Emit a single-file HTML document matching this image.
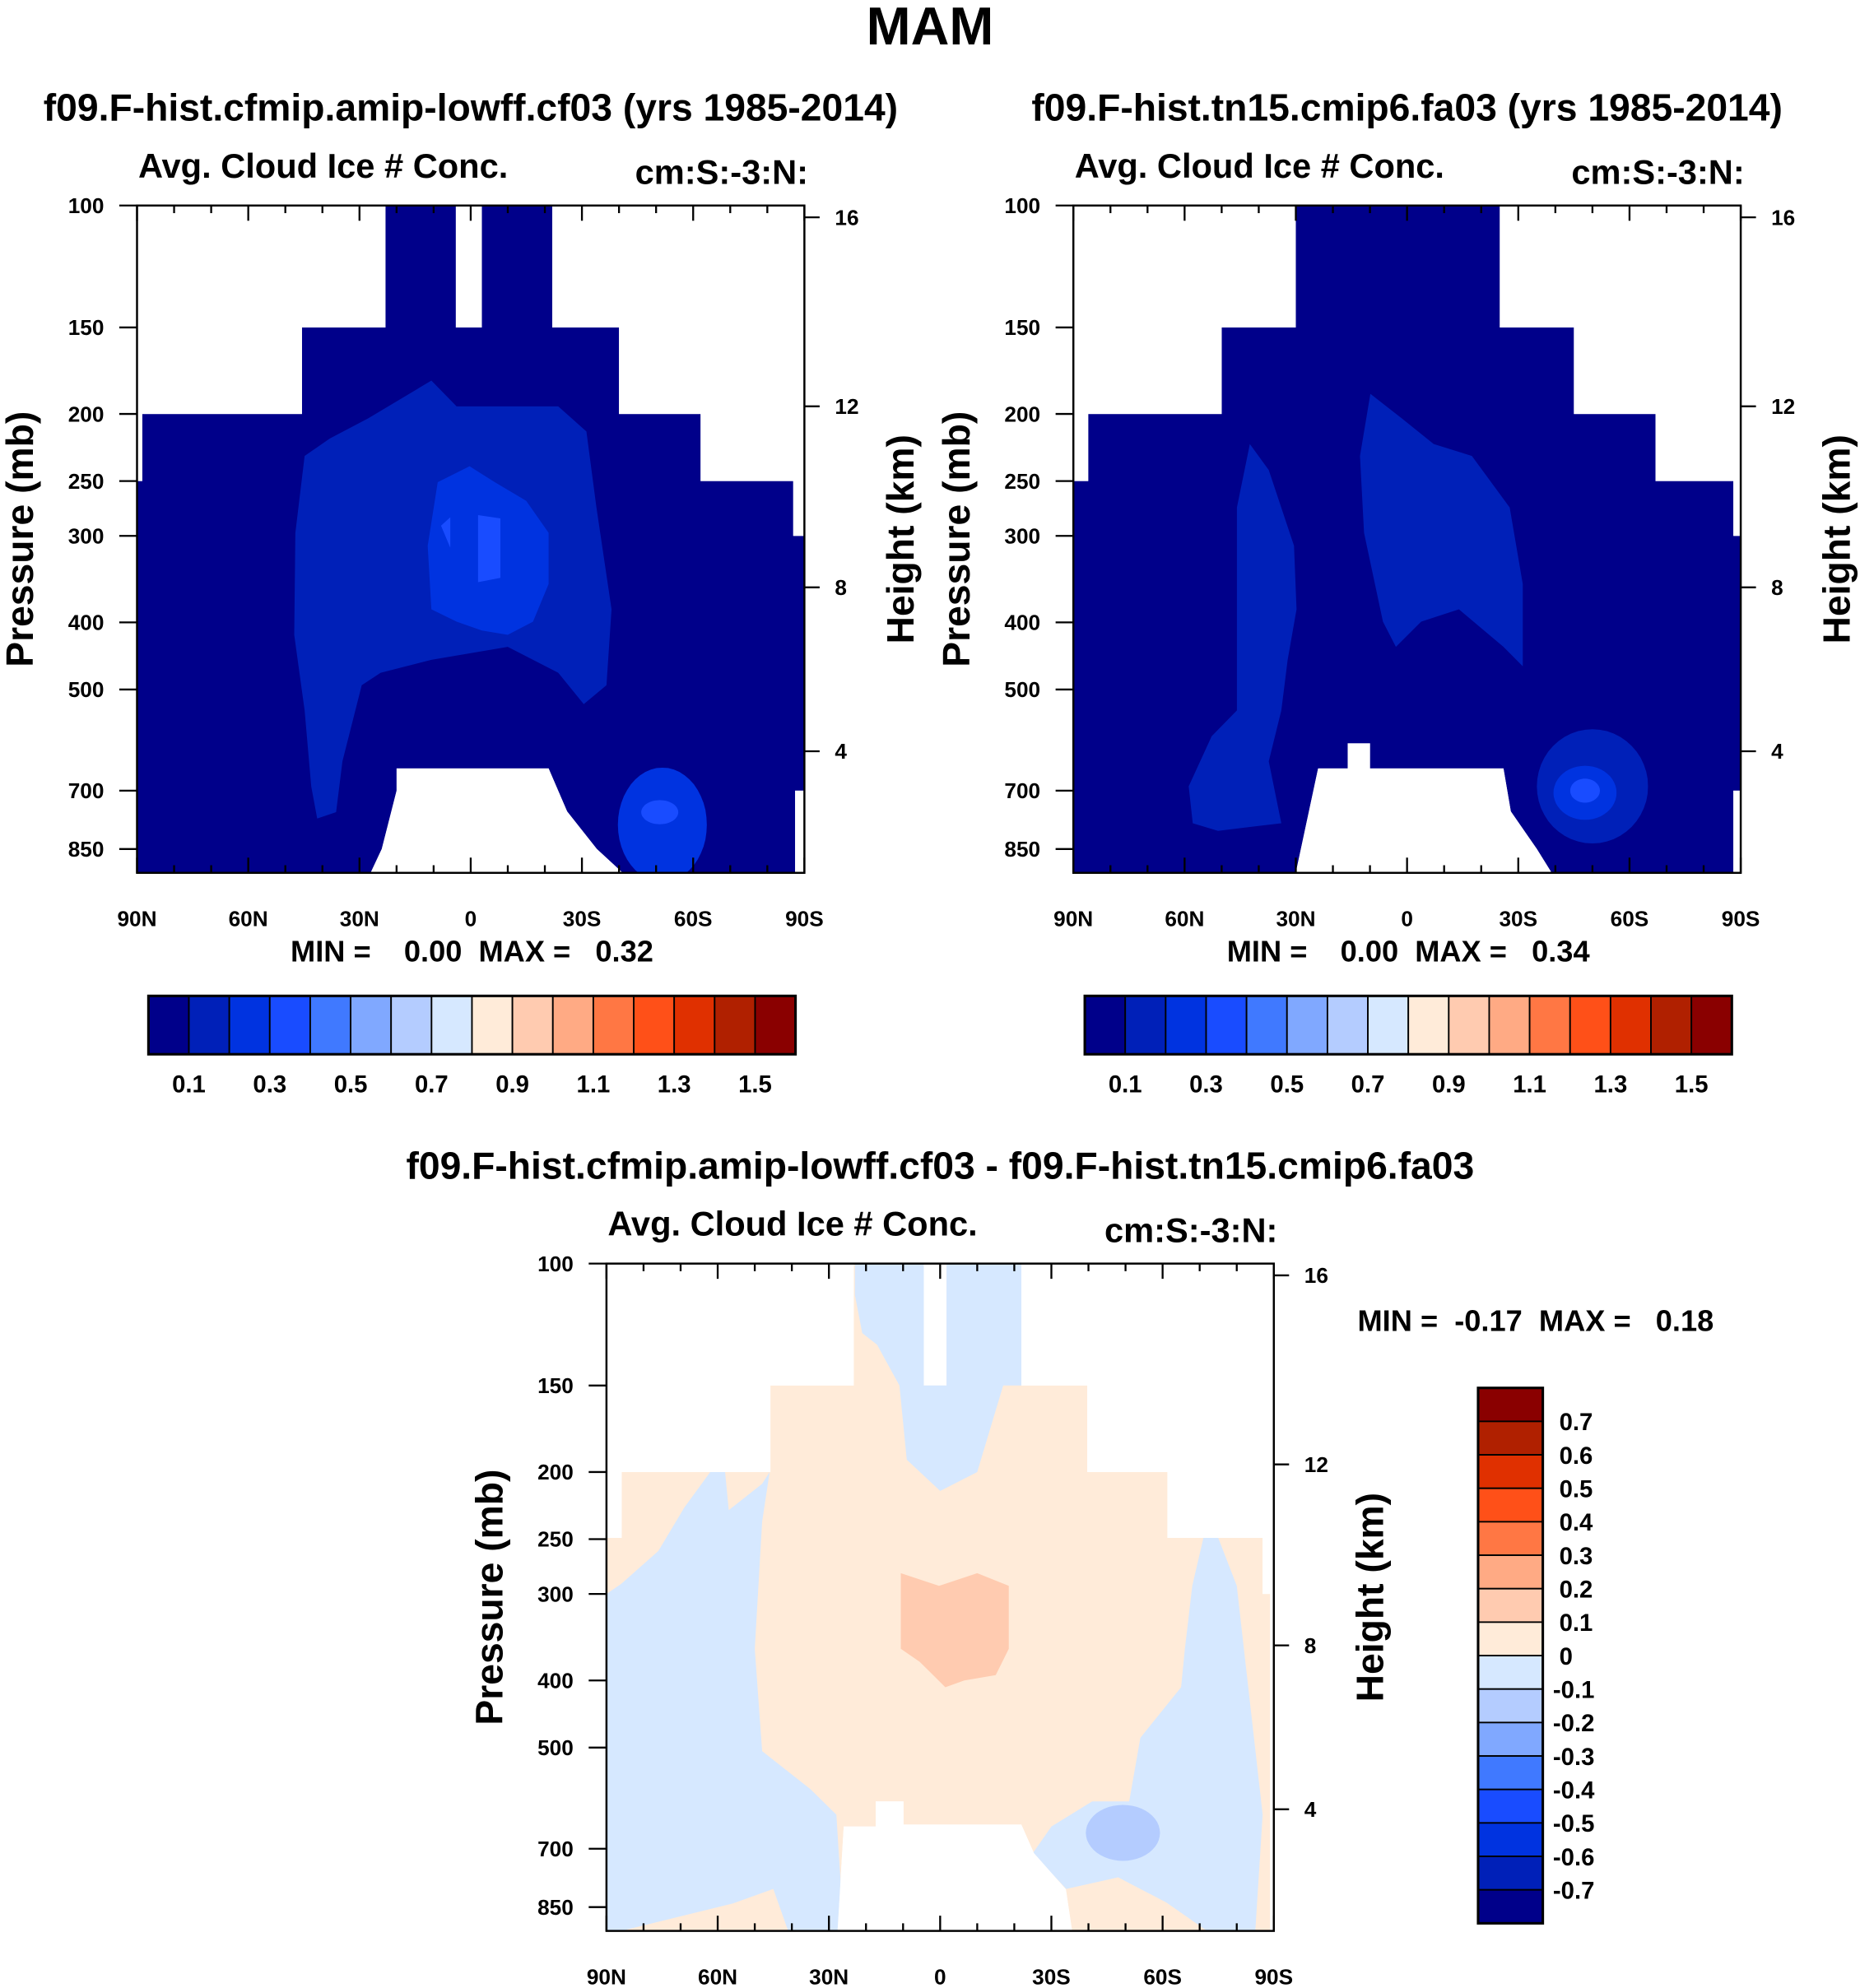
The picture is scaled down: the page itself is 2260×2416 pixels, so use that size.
<!DOCTYPE html>
<html><head><meta charset="utf-8"><style>
html,body{margin:0;padding:0;background:#fff}
svg{display:block;font-family:"Liberation Sans",Arial,sans-serif;font-weight:bold}
</style></head><body>
<svg id="fig" xmlns="http://www.w3.org/2000/svg" width="2260" height="2416" viewBox="0 0 1466 1567" preserveAspectRatio="none">
<rect width="1466" height="1567" fill="#fff"/>
<text x="733" y="35" font-size="42" text-anchor="middle">MAM</text>
</svg>
<script>
// ---- data ----
const pressureTicks=[100,150,200,250,300,400,500,700,850];
const heightTicks=[4,8,12,16];
const heightTickPressures=[614,356,195,104];
const latTicks=[90,60,30,0,-30,-60,-90];
const latTickLabels=["90N","60N","30N","0","30S","60S","90S"];
const palette=["#00008a","#0020b8","#0033e0","#194cff","#4079ff","#80a8ff","#b4ccff","#d6e8ff","#ffebd9","#ffcbb0","#ffaa84","#ff7744","#ff5018","#e03000","#b02000","#8a0000"];
const absLevelLabels=["0.1","0.3","0.5","0.7","0.9","1.1","1.3","1.5"];
const diffLevelLabels=["0.7","0.6","0.5","0.4","0.3","0.2","0.1","0","-0.1","-0.2","-0.3","-0.4","-0.5","-0.6","-0.7"];
const stats1=[0.00,0.32], stats2=[0.00,0.34], stats3=[-0.17,0.18];
// polygons in [lat(N+), pressure mb]
const region1=[[23,100],[4,100],[4,150],[-3,150],[-3,100],[-22,100],[-22,150],[-40,150],[-40,200],[-62,200],[-62,250],[-87,250],[-87,300],[-90,300],[-90,700],[-87.5,700],[-87.5,920],[-41,920],[-34,850],[-26,750],[-21,650],[20,650],[20,700],[24,850],[27,920],[90,920],[90,250],[88.6,250],[88.6,200],[45.5,200],[45.5,150],[23,150]];
const blob1a=[[44.8,230],[38,217],[27.7,203],[10.6,179],[3.8,195],[-10,195],[-23.6,195],[-31.2,212],[-33.9,273],[-38,383],[-36.6,493],[-30.5,525],[-23.6,473],[-10,434],[10.6,453],[24.3,473],[29.4,493],[34.6,635],[36.3,752],[41.4,768],[43,690],[44.8,536],[47.6,417],[47.3,297]];
const blob1b=[[8.9,251],[0.3,238],[-6.5,251],[-15,267],[-21,297],[-21,352],[-16.8,399],[-10,417],[-3,411],[3.8,399],[10.6,383],[11.6,310]];
const blob1c=[[-2,280],[-8,283],[-8,345],[-2,350]];
const blob1d=[[8,290],[5.5,282],[5.5,312]];
const blob1e={lat:-51.7,p:784,rlat:12,rlog:0.19};
const blob1f={lat:-51,p:752,rlat:5,rlog:0.04};
const region2=[[30,100],[-25,100],[-25,150],[-45,150],[-45,200],[-67,200],[-67,250],[-88,250],[-88,300],[-90,300],[-90,700],[-88,700],[-88,920],[-39,920],[-35,850],[-28,750],[-26,650],[10,650],[10,598],[16,598],[16,650],[24,650],[30,920],[90,920],[90,250],[86,250],[86,200],[50,200],[50,150],[30,150]];
const blob2a=[[42.4,221],[37.3,241],[30.5,310],[29.8,383],[32.2,453],[33.9,536],[37.3,635],[33.9,780],[51,800],[57.8,780],[58.9,690],[52.7,584],[45.9,536],[45.9,383],[45.9,273]];
const blob2b=[[9.9,187],[1.4,203],[-7.2,221],[-17.5,230],[-27.7,273],[-31.2,352],[-31.2,463],[-26,434],[-14,383],[-3.8,399],[3,434],[6.5,399],[11.6,297],[12.7,230]];
const blob2c={lat:-50,p:690,rlat:15,rlog:0.19};
const blob2d={lat:-48,p:705,rlat:8.5,rlog:0.09};
const blob2e={lat:-48,p:700,rlat:4,rlog:0.04};
const region3=[[23.3,100],[4.4,100],[4.4,150],[-1.7,150],[-1.7,100],[-21.9,100],[-21.9,150],[-39.7,150],[-39.7,200],[-61.3,200],[-61.3,249],[-87,249],[-87,300],[-89,300],[-89,920],[-35.6,920],[-33.9,801],[-25.3,710],[-21.9,646],[9.9,646],[9.9,598],[17.4,598],[17.4,650],[26,650],[27.7,920],[90,920],[90,249],[85.9,249],[85.9,200],[45.8,200],[45.8,150],[23.3,150]];
const blue3a=[[90,300],[86,290],[76,260],[69,225],[62,200],[58,200],[57,227],[48,208],[46,200],[48,236],[50,360],[48,506],[35,574],[28,625],[26,920],[41,920],[45,800],[56,840],[86,920],[90,920]];
const blue3b=[[23,100],[-22,100],[-22,150],[-17,150],[-10,200],[0,213],[9,192],[11,150],[17,131],[21,126],[23,111]];
const blue3c=[[-61,249],[-71,249],[-68,292],[-66,360],[-65,409],[-54,484],[-51,598],[-41,598],[-30,650],[-25,710],[-34,800],[-48,770],[-61,837],[-72,920],[-85,920],[-87,625],[-80,292],[-75,249]];
const orange3=[[10.6,280],[0.3,292],[-10,280],[-18.5,292],[-18.5,360],[-15,393],[-6.5,400],[-1.4,409],[5.5,376],[10.6,360]];
const blob3e={lat:-49.3,p:664,rlat:10,rlog:0.093};

// ---- drawing ----
const NS="http://www.w3.org/2000/svg";
const svg=document.getElementById('fig');
function mk(tag,attrs,parent){const e=document.createElementNS(NS,tag);for(const k in attrs)e.setAttribute(k,attrs[k]);(parent||svg).appendChild(e);return e;}
function txt(s,attrs,parent){const e=mk('text',attrs,parent);e.textContent=s;return e;}
const W=526,H=526,PBOT=920;
function axes(x0,y0){return{x:lat=>x0+(90-lat)/180*W,y:p=>y0+Math.log(p/100)/Math.log(PBOT/100)*H};}
function polyPts(ax,arr){return arr.map(d=>ax.x(d[0]).toFixed(1)+','+ax.y(d[1]).toFixed(1)).join(' ');}
function ellPts(ax,b){const pts=[];for(let i=0;i<48;i++){const t=i/48*2*Math.PI;pts.push([b.lat+b.rlat*Math.cos(t),b.p*Math.exp(b.rlog*Math.sin(t))]);}return polyPts(ax,pts);}

function panel(id,x0,y0,title,fills){
  const ax=axes(x0,y0);
  const g=mk('g',{});
  
  
  const cp=mk('clipPath',{id:id+'-clip'},g);
  mk('polygon',{points:polyPts(ax,fills.region)},cp);
  const fg=mk('g',{'clip-path':'url(#'+id+'-clip)'},g);
  const base=mk('polygon',{points:polyPts(ax,fills.region),fill:fills.base},fg);
  
  
  fills.shapes.forEach(s=>{
    const el=mk('polygon',{points:s.ell?ellPts(ax,s.ell):polyPts(ax,s.poly),fill:s.c},fg);
    
    
  });
  const fr=mk('rect',{x:x0,y:y0,width:W,height:H,fill:'none',stroke:'#000','stroke-width':1.6},g);
  
  
  pressureTicks.forEach(p=>{
    const y=ax.y(p);
    mk('line',{x1:x0-14,x2:x0,y1:y,y2:y,stroke:'#000','stroke-width':1.5},g);
    const t=txt(String(p),{x:x0-26,y:y+6,'font-size':17,'text-anchor':'end'},g);
    
    
  });
  heightTicks.forEach((h,i)=>{
    const y=ax.y(heightTickPressures[i]);
    mk('line',{x1:x0+W,x2:x0+W+12,y1:y,y2:y,stroke:'#000','stroke-width':1.5},g);
    const t=txt(String(h),{x:x0+W+24,y:y+6,'font-size':17},g);
    
    
  });
  for(let lat=90;lat>=-90;lat-=10){
    const x=ax.x(lat);const major=lat%30===0;const L=major?12:6;
    mk('line',{x1:x,x2:x,y1:y0,y2:y0+L,stroke:'#000','stroke-width':1.5},g);
    mk('line',{x1:x,x2:x,y1:y0+H,y2:y0+H-L,stroke:'#000','stroke-width':1.5},g);
  }
  latTicks.forEach((lat,i)=>{
    const t=txt(latTickLabels[i],{x:ax.x(lat),y:y0+H+42,'font-size':17,'text-anchor':'middle'},g);
    
    
  });
  let t;
  t=txt('Avg. Cloud Ice # Conc.',{x:x0+1,y:y0-22,'font-size':27},g);
  
  
  t=txt('cm:S:-3:N:',{x:x0+W+3,y:y0-17,'font-size':27,'text-anchor':'end'},g);
  
  
  t=txt(title,{x:x0+W/2,y:y0-67,'font-size':30,'text-anchor':'middle'},g);
  
  
  t=txt('Pressure (mb)',{x:0,y:0,'font-size':30,'text-anchor':'middle',transform:`translate(${x0-82},${y0+H/2}) rotate(-90)`},g);
  
  
  t=txt('Height (km)',{x:0,y:0,'font-size':30,'text-anchor':'middle',transform:`translate(${x0+W+86},${y0+H/2}) rotate(-90)`},g);
  
  
  return {ax,g};
}
function fmt(v){return v.toFixed(2);}
function statsText(x,y,st,anchor){
  const t=txt(`MIN = \u00a0${st[0]<0?'':'\u00a0\u00a0'}${fmt(st[0])} \u00a0MAX = \u00a0 ${fmt(st[1])}`,{x:x,y:y,'font-size':23.5,'text-anchor':anchor});
  
  
}
function hColorbar(x0,y0,w,h){
  const g=mk('g',{});
  
  
  const bw=w/palette.length;
  palette.forEach((c,i)=>{
    const r=mk('rect',{x:x0+i*bw,y:y0,width:bw,height:h,fill:c,stroke:'#000','stroke-width':1.2},g);
    
    
  });
  mk('rect',{x:x0,y:y0,width:w,height:h,fill:'none',stroke:'#000','stroke-width':2},g);
  absLevelLabels.forEach((s,i)=>{
    const t=txt(s,{x:x0+(1+2*i)*bw,y:y0+h+30,'font-size':19,'text-anchor':'middle'},g);
    
    
  });
}
function vColorbar(x0,y0,w,h){
  const g=mk('g',{});
  
  
  const bh=h/palette.length;
  palette.slice().reverse().forEach((c,i)=>{
    const r=mk('rect',{x:x0,y:y0+i*bh,width:w,height:bh,fill:c,stroke:'#000','stroke-width':1.2},g);
    
    
  });
  mk('rect',{x:x0,y:y0,width:w,height:h,fill:'none',stroke:'#000','stroke-width':2},g);
  diffLevelLabels.forEach((s,i)=>{
    const t=txt(s,{x:x0+w+(s[0]==='-'?8:13),y:y0+(i+1)*bh+7,'font-size':19},g);
    
    
  });
}

panel('panel-cf03',108,162,'f09.F-hist.cfmip.amip-lowff.cf03 (yrs 1985-2014)',{
  region:region1,base:palette[0],
  shapes:[{poly:blob1a,c:palette[1]},{poly:blob1b,c:palette[2]},{poly:blob1c,c:palette[3]},{poly:blob1d,c:palette[3]},{ell:blob1e,c:palette[2]},{ell:blob1f,c:palette[3]}]});
statsText(372,758,stats1,'middle');
hColorbar(117,785,510,46);

panel('panel-fa03',846,162,'f09.F-hist.tn15.cmip6.fa03 (yrs 1985-2014)',{
  region:region2,base:palette[0],
  shapes:[{poly:blob2a,c:palette[1]},{poly:blob2b,c:palette[1]},{ell:blob2c,c:palette[1]},{ell:blob2d,c:palette[2]},{ell:blob2e,c:palette[3]}]});
statsText(1110,758,stats2,'middle');
hColorbar(855,785,510,46);

panel('panel-diff',478,996,'f09.F-hist.cfmip.amip-lowff.cf03 - f09.F-hist.tn15.cmip6.fa03',{
  region:region3,base:palette[8],
  shapes:[{poly:blue3a,c:palette[7]},{poly:blue3b,c:palette[7]},{poly:blue3c,c:palette[7]},{poly:orange3,c:palette[9]},{ell:blob3e,c:palette[6]}]});
statsText(1070,1049,stats3,'start');
vColorbar(1165,1094,51,422);
</script>
</body></html>
